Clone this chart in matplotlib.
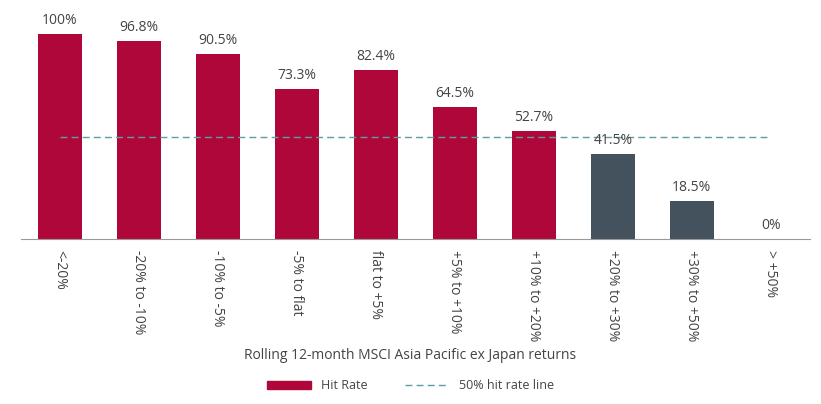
import numpy as np
import matplotlib.pyplot as plt
from matplotlib.lines import Line2D
from matplotlib.patches import Patch

categories = ['<-20%', '-20% to -10%', '-10% to -5%', '-5% to flat', 'flat to +5%',
              '+5% to +10%', '+10% to +20%', '+20% to +30%', '+30% to +50%', '> +50%']
hit_rate = [100, 96.8, 90.5, 73.3, 82.4, 64.5, 52.7, 41.5, 18.5, 0]
value_labels = ['100%', '96.8%', '90.5%', '73.3%', '82.4%', '64.5%', '52.7%', '41.5%', '18.5%', '0%']
threshold = 50

red = '#b0073a'
grey = '#44525e'
teal = '#5b9ea3'
txt = '#444444'

plt.rcParams['font.family'] = 'Open Sans'
fig = plt.figure(figsize=(8.21, 4.04), dpi=100)
ax = fig.add_axes([0.025, 0.408, 0.962, 0.507])

x = np.arange(len(categories))
colors = [red if v > threshold else grey for v in hit_rate]
ax.bar(x, hit_rate, width=0.56, color=colors)
for xi, v, lab in zip(x, hit_rate, value_labels):
    ax.text(xi, v + 3, lab, ha='center', va='bottom', fontsize=10, color=txt)

ax.plot([0, 9], [threshold, threshold], ls=(0, (5, 3)), color=teal, lw=1)

ax.set_xlim(-0.5, len(categories) - 0.5)
ax.set_ylim(0, 100)
for s in ['top', 'right', 'left']:
    ax.spines[s].set_visible(False)
ax.spines['bottom'].set_color('#999999')
ax.set_yticks([])
ax.set_xticks(x)
ax.set_xticklabels(categories, rotation=270, fontsize=10, color=txt)
ax.tick_params(axis='x', length=0, pad=8)

fig.text(0.5, 0.12, 'Rolling 12-month MSCI Asia Pacific ex Japan returns',
         ha='center', va='center', fontsize=10, color=txt)

handles = [Patch(color=red, label='Hit Rate'),
           Line2D([0], [0], color=teal, ls=(0, (5, 3)), lw=1, label='50% hit rate line')]
fig.legend(handles=handles, loc='center', bbox_to_anchor=(0.5, 0.045), ncol=2,
           frameon=False, fontsize=9, handlelength=3.5, handleheight=0.6,
           columnspacing=3, labelcolor=txt)

fig.savefig('out.png', dpi=100)
